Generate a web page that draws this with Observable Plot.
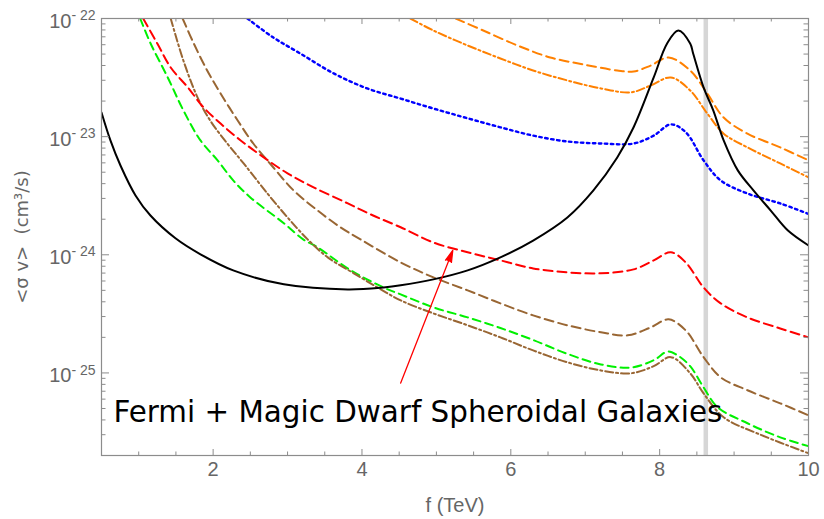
<!DOCTYPE html>
<html><head><meta charset="utf-8">
<script src="https://cdn.jsdelivr.net/npm/d3@7"></script>
<script src="https://cdn.jsdelivr.net/npm/@observablehq/plot@0.6"></script>
<style>body{margin:0;background:#fff}</style>
</head><body><div id="chart"></div>
<script>
// ---- data (f in TeV, <sigma v> in cm^3/s) ----
const blackF  = [0.5, 0.62, 0.755, 0.957, 1.158, 1.494, 1.83, 2.27, 2.95, 3.81, 4.29, 4.52, 4.96, 5.42, 5.86, 6.30, 6.76, 7.11, 7.43, 7.65, 7.92, 8.10, 8.25, 8.41, 8.45, 8.59, 8.72, 8.86, 9.05, 9.26, 9.49, 9.72, 10.0];
const blackSv = [1.6e-23, 9.29e-24, 5.70e-24, 3.18e-24, 2.15e-24, 1.38e-24, 1.01e-24, 7.38e-25, 5.62e-25, 5.09e-25, 5.29e-25, 5.51e-25, 6.19e-25, 7.38e-25, 9.51e-25, 1.32e-24, 2.07e-24, 3.51e-24, 6.67e-24, 1.20e-23, 3.17e-23, 6.14e-23, 7.91e-23, 6.14e-23, 5.06e-23, 2.61e-23, 1.67e-23, 9.29e-24, 5.18e-24, 3.51e-24, 2.38e-24, 1.61e-24, 1.20e-24];

const greenF  = [1.02, 1.16, 1.39, 1.60, 1.83, 2.06, 2.27, 2.50, 2.95, 3.21, 3.40, 3.85, 4.29, 4.52, 4.96, 5.42, 5.86, 6.30, 6.76, 7.21, 7.61, 7.92, 8.11, 8.24, 8.41, 8.59, 8.78, 9.18, 9.62, 10.0];
const greenSv = [1e-22, 6.14e-23, 3.17e-23, 1.67e-23, 9.29e-24, 6.30e-24, 4.26e-24, 3.06e-24, 1.85e-24, 1.35e-24, 1.16e-24, 7.38e-25, 5.29e-25, 4.62e-25, 3.59e-25, 2.95e-25, 2.40e-25, 1.90e-25, 1.45e-25, 1.18e-25, 1.11e-25, 1.28e-25, 1.52e-25, 1.41e-25, 1.14e-25, 7.55e-26, 5.12e-26, 3.75e-26, 2.85e-26, 2.40e-26];

const brownDotF  = [1.43, 1.60, 1.79, 1.96, 2.19, 2.41, 2.73, 3.00, 3.27, 3.54, 3.89, 4.21, 4.52, 4.96, 5.42, 5.86, 6.30, 6.76, 7.21, 7.61, 7.92, 8.15, 8.41, 8.59, 8.86, 9.31, 10.0];
const brownDotSv = [1e-22, 4.41e-23, 2.15e-23, 1.37e-23, 8.75e-24, 5.93e-24, 3.30e-24, 2.07e-24, 1.35e-24, 9.51e-25, 6.97e-25, 5.29e-25, 4.11e-25, 3.19e-25, 2.53e-25, 2.00e-25, 1.55e-25, 1.23e-25, 1.05e-25, 9.93e-26, 1.14e-25, 1.36e-25, 9.93e-26, 6.71e-26, 4.21e-26, 3.08e-26, 2.09e-26];

const brownDashF  = [1.59, 1.74, 1.92, 2.10, 2.33, 2.54, 2.81, 3.08, 3.40, 3.71, 3.98, 4.52, 4.96, 5.42, 5.86, 6.30, 6.76, 7.21, 7.57, 7.88, 8.12, 8.35, 8.59, 8.82, 9.18, 9.62, 10.0];
const brownDashSv = [1e-22, 6.14e-23, 3.63e-23, 2.32e-23, 1.37e-23, 8.75e-24, 5.48e-24, 3.51e-24, 2.38e-24, 1.71e-24, 1.35e-24, 8.62e-25, 6.44e-25, 5.00e-25, 3.88e-25, 3.07e-25, 2.53e-25, 2.21e-25, 2.08e-25, 2.43e-25, 2.84e-25, 2.29e-25, 1.36e-25, 9.18e-26, 7.13e-26, 5.53e-26, 4.38e-26];

const redF  = [1.06, 1.25, 1.43, 1.66, 1.87, 2.10, 2.37, 2.68, 3.00, 3.35, 3.81, 4.15, 4.52, 4.96, 5.42, 5.86, 6.30, 6.76, 7.21, 7.65, 7.92, 8.15, 8.35, 8.59, 8.82, 9.18, 9.62, 10.0];
const redSv = [1e-22, 6.14e-23, 3.85e-23, 2.61e-23, 1.77e-23, 1.29e-23, 9.29e-24, 6.67e-24, 4.89e-24, 3.72e-24, 2.72e-24, 2.15e-24, 1.71e-24, 1.27e-24, 1.05e-24, 8.97e-25, 7.67e-25, 7.10e-25, 6.97e-25, 7.52e-25, 8.97e-25, 1.05e-24, 8.62e-25, 5.29e-25, 3.88e-25, 2.95e-25, 2.38e-25, 2.00e-25];

const blueF  = [2.46, 2.81, 3.17, 3.62, 4.07, 4.52, 4.96, 5.42, 5.86, 6.30, 6.76, 7.21, 7.65, 7.92, 8.15, 8.35, 8.59, 8.82, 9.18, 9.62, 10.0];
const blueSv = [1e-22, 6.90e-23, 5.06e-23, 3.43e-23, 2.56e-23, 2.10e-23, 1.73e-23, 1.43e-23, 1.20e-23, 1.02e-23, 9.10e-24, 8.75e-24, 8.75e-24, 1.02e-23, 1.27e-23, 1.09e-23, 6.30e-24, 4.26e-24, 3.30e-24, 2.72e-24, 2.22e-24];

const orangeDashF  = [5.26, 5.63, 6.09, 6.53, 6.98, 7.43, 7.65, 7.88, 8.12, 8.41, 8.64, 8.86, 9.18, 9.62, 10.0];
const orangeDashSv = [1e-22, 7.91e-23, 5.91e-23, 4.68e-23, 4.08e-23, 3.63e-23, 3.56e-23, 4.00e-23, 4.68e-23, 3.63e-23, 2.32e-23, 1.45e-23, 1.06e-23, 8.11e-24, 6.30e-24];

const orangeDotF  = [4.65, 4.96, 5.42, 5.86, 6.30, 6.76, 7.21, 7.61, 7.88, 8.15, 8.41, 8.64, 8.86, 9.18, 9.62, 10.0];
const orangeDotSv = [1e-22, 7.91e-23, 5.91e-23, 4.59e-23, 3.63e-23, 2.99e-23, 2.56e-23, 2.37e-23, 2.71e-23, 3.17e-23, 2.46e-23, 1.57e-23, 1.06e-23, 8.11e-24, 5.93e-24, 4.52e-24];

const thresholdF = [8.62];
const xMajorTicks = [2, 4, 6, 8, 10];
const xMinorTicks = [1, 1.5, 2.5, 3, 3.5, 4.5, 5, 5.5, 6.5, 7, 7.5, 8.5, 9, 9.5];
const yMajorTicks = [1e-25, 1e-24, 1e-23, 1e-22];
const yMinorTicks = [];
for (const d of [-26, -25, -24, -23]) for (let m = 2; m <= 9; m++) { const v = m * Math.pow(10, d); if (v >= 2e-26 && v < 1e-22) yMinorTicks.push(v); }

const annotation = [{f: 0.66, sv: 4.58e-26, label: "Fermi + Magic Dwarf Spheroidal Galaxies"}];
const arrowData = [{f1: 4.52, s1: 8.2e-26, f2: 5.22, s2: 1.09e-24}];
const xLabel = "f (TeV)";
const yLabel = "<σ v>  (cm³/s)";

// ---- series table ----
const series = [
  {f: greenF, sv: greenSv, stroke: "#00f000", dash: "8,5", w: 2},
  {f: brownDotF, sv: brownDotSv, stroke: "#996633", dash: "8,3,2,3", w: 2},
  {f: brownDashF, sv: brownDashSv, stroke: "#996633", dash: "9,5", w: 2},
  {f: redF, sv: redSv, stroke: "#ff0000", dash: "9,5", w: 2},
  {f: blueF, sv: blueSv, stroke: "#0000ff", dash: "2.5,3.5", w: 2.4},
  {f: orangeDotF, sv: orangeDotSv, stroke: "#ff8000", dash: "8,3,2,3", w: 2},
  {f: orangeDashF, sv: orangeDashSv, stroke: "#ff8000", dash: "9,5", w: 2},
];
const blackRows = blackF.map((f, i) => ({f, sv: blackSv[i]}));

const frameColor = "#8c8c8c";
const textColor = "#666666";
const W = 824, H = 519, mL = 101, mR = 16, mT = 18, mB = 64;
const iw = W - mL - mR, ih = H - mT - mB;

const lineMarks = series.map(s => Plot.line(s.f.map((f, i) => ({f, sv: s.sv[i]})), {
  x: "f", y: "sv", stroke: s.stroke, strokeWidth: s.w, strokeDasharray: s.dash, curve: "catmull-rom", clip: true
}));

const chart = Plot.plot({
  width: W, height: H,
  marginLeft: mL, marginRight: mR, marginTop: mT, marginBottom: mB,
  style: {fontFamily: "Liberation Sans, Arial, sans-serif", fontSize: "19px", background: "white"},
  x: {domain: [0.5, 10]},
  y: {type: "log", domain: [2e-26, 1e-22]},
  marks: [
    Plot.ruleX(thresholdF, {stroke: "#d6d6d6", strokeWidth: 4.5}),
    ...lineMarks,
    Plot.line(blackRows, {x: "f", y: "sv", stroke: "black", strokeWidth: 2, curve: "catmull-rom", clip: true}),
    // inward ticks on all four sides
    Plot.ruleX(xMajorTicks, {stroke: frameColor, insetTop: ih - 6}),
    Plot.ruleX(xMinorTicks, {stroke: frameColor, insetTop: ih - 3.5}),
    Plot.ruleX(xMajorTicks, {stroke: frameColor, insetBottom: ih - 6}),
    Plot.ruleX(xMinorTicks, {stroke: frameColor, insetBottom: ih - 3.5}),
    Plot.ruleY(yMajorTicks, {stroke: frameColor, insetRight: iw - 8}),
    Plot.ruleY(yMinorTicks, {stroke: frameColor, insetRight: iw - 4.5}),
    Plot.ruleY(yMajorTicks, {stroke: frameColor, insetLeft: iw - 8}),
    Plot.ruleY(yMinorTicks, {stroke: frameColor, insetLeft: iw - 4.5}),
    Plot.frame({stroke: frameColor, strokeWidth: 1.2}),
    Plot.axisX({ticks: xMajorTicks, tickSize: 0, tickPadding: 6, fill: textColor, fontSize: 20, label: null}),
    Plot.axisY({ticks: yMajorTicks, tickSize: 0, tickPadding: 6, dy: 3, fill: textColor, fontSize: 20, label: null,
      tickFormat: d => "10^- " + Math.round(-Math.log10(d))}),
    Plot.text([xLabel], {frameAnchor: "bottom", dy: 50, lineAnchor: "middle", textAnchor: "middle", text: d => d, fill: textColor, fontSize: 20}),
    Plot.text([yLabel], {frameAnchor: "left", dx: -79, rotate: -90, lineAnchor: "middle", textAnchor: "middle", text: d => d, fill: textColor, fontSize: 18, fontFamily: "DejaVu Sans"}),
    Plot.text(annotation, {x: "f", y: "sv", text: "label", textAnchor: "start", lineAnchor: "middle", fill: "black", fontSize: 29.4, fontFamily: "DejaVu Sans"}),
    Plot.arrow(arrowData, {x1: "f1", y1: "s1", x2: "f2", y2: "s2", stroke: "red", fill: "red", strokeWidth: 1.3, headAngle: 30, headLength: 14})
  ]
});

// superscript exponents on y tick labels
const NS = "http://www.w3.org/2000/svg";
chart.querySelectorAll('g[aria-label="y-axis tick label"] text').forEach(t => {
  const [base, exp] = t.textContent.split("^");
  t.textContent = "";
  const a = document.createElementNS(NS, "tspan"); a.textContent = base;
  const b = document.createElementNS(NS, "tspan"); b.textContent = exp;
  b.setAttribute("dy", "-0.55em"); b.setAttribute("font-size", "14");
  t.append(a, b);
});
document.getElementById("chart").append(chart);
</script>
</body></html>
